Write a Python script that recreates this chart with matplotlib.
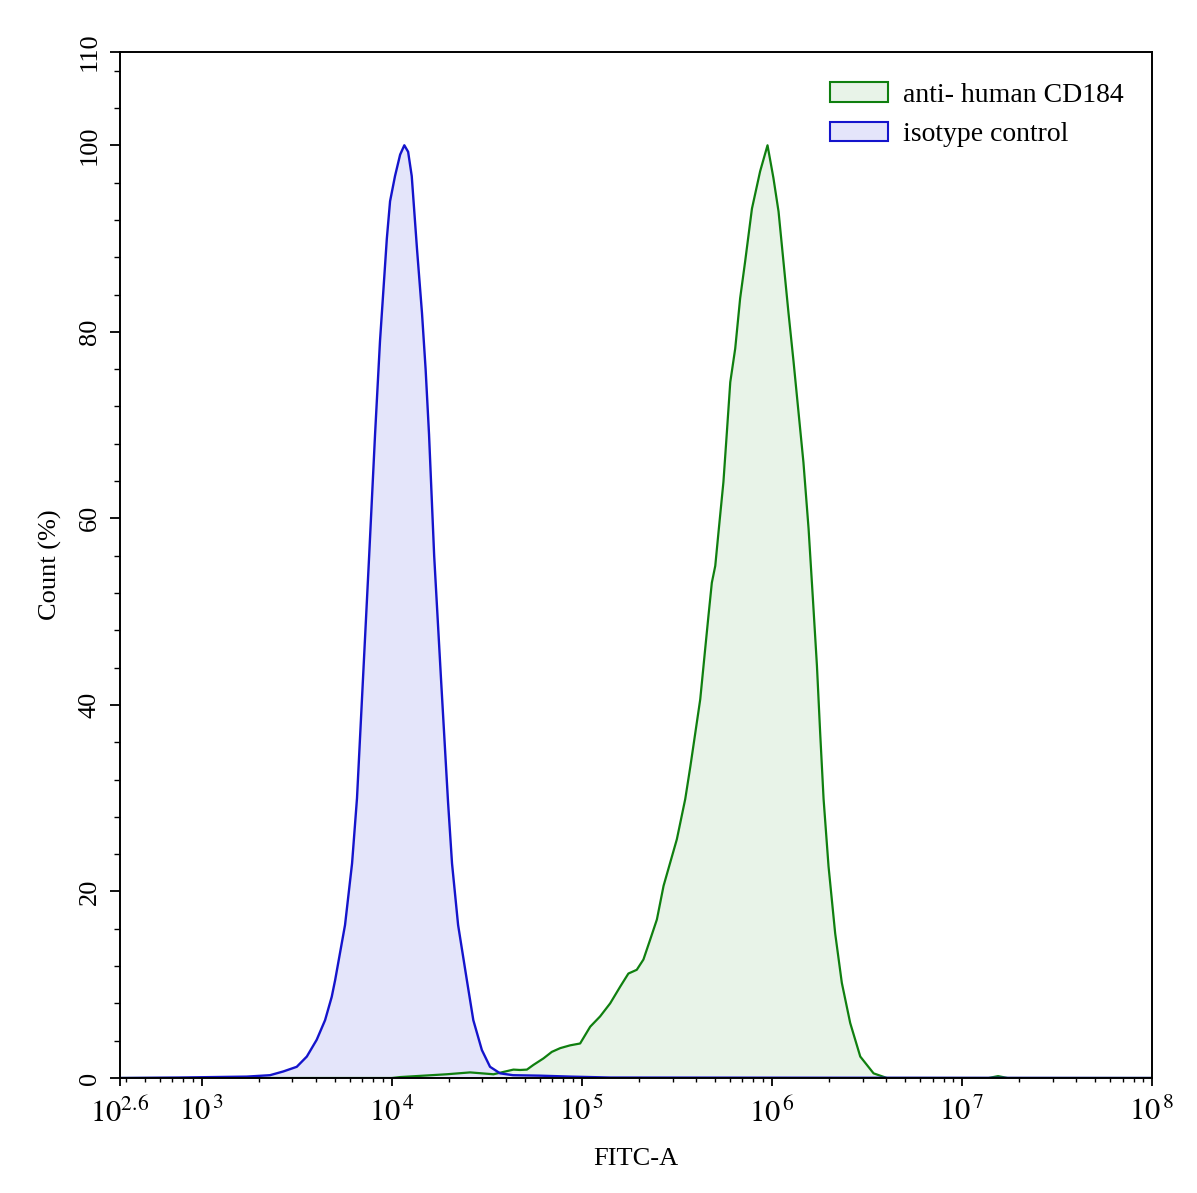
import matplotlib
matplotlib.use("Agg")
import matplotlib.pyplot as plt
import numpy as np
from matplotlib.patches import Patch
from matplotlib.ticker import FixedLocator, LogLocator, NullFormatter

plt.rcParams['font.family'] = ['Liberation Serif', 'DejaVu Serif']
plt.rcParams['mathtext.fontset'] = 'stix'

# isotype control histogram (log10 FITC-A, count %)
iso_log = [2.57, 2.886, 3.059, 3.237, 3.359, 3.429, 3.500, 3.553, 3.605, 3.649,
           3.684, 3.702, 3.754, 3.791, 3.817, 3.849, 3.881, 3.912, 3.938, 3.974,
           3.991, 4.017, 4.044, 4.066, 4.086, 4.105, 4.133, 4.159, 4.178, 4.196,
           4.223, 4.259, 4.296, 4.317, 4.349, 4.395, 4.429, 4.474, 4.517, 4.570,
           4.638, 4.78, 4.94, 5.15, 8.0]
iso_pct = [0.0, 0.05, 0.1, 0.15, 0.3, 0.7, 1.2, 2.3, 4.1, 6.2,
           8.7, 10.5, 16.4, 23.0, 30.0, 43.0, 56.0, 69.0, 79.0, 90.0,
           94.0, 96.7, 99.0, 100.0, 99.3, 96.7, 88.8, 82.0, 76.0, 69.0,
           56.0, 42.8, 29.6, 23.0, 16.4, 10.5, 6.2, 3.0, 1.2, 0.5,
           0.3, 0.25, 0.15, 0.05, 0.0]

# anti-human CD184 histogram
cd_log = [2.57, 4.0, 4.044, 4.289, 4.412, 4.535, 4.640, 4.675, 4.711, 4.745,
          4.798, 4.842, 4.886, 4.938, 4.991, 5.044, 5.096, 5.149, 5.202, 5.245,
          5.289, 5.324, 5.359, 5.395, 5.430, 5.465, 5.500, 5.544, 5.571, 5.597,
          5.623, 5.649, 5.666, 5.684, 5.702, 5.719, 5.745, 5.763, 5.781, 5.807,
          5.833, 5.859, 5.895, 5.938, 5.977, 6.008, 6.035, 6.061, 6.087, 6.114,
          6.140, 6.166, 6.193, 6.216, 6.237, 6.254, 6.272, 6.298, 6.333, 6.368,
          6.412, 6.465, 6.535, 6.605, 7.14, 7.19, 7.24, 8.0]
cd_pct = [0.0, 0.0, 0.1, 0.4, 0.6, 0.4, 0.9, 0.86, 0.9, 1.4,
          2.1, 2.8, 3.2, 3.5, 3.7, 5.5, 6.6, 8.0, 9.8, 11.2,
          11.6, 12.7, 14.8, 17.0, 20.6, 23.1, 25.6, 29.9, 33.4, 37.0,
          40.6, 46.0, 49.5, 53.1, 54.9, 58.5, 63.9, 69.2, 74.6, 78.2,
          83.6, 87.5, 93.2, 97.2, 100.0, 96.5, 92.9, 87.5, 82.1, 76.8,
          71.4, 66.0, 58.9, 51.3, 44.2, 37.0, 29.9, 22.7, 15.5, 10.2,
          5.9, 2.3, 0.5, 0.0, 0.0, 0.2, 0.0, 0.0]

x_ticks = [2.6, 3, 4, 5, 6, 7, 8]
x_tick_labels = [r'$10^{2.6}$', r'$10^{\,3}$', r'$10^{\,4}$', r'$10^{\,5}$',
                 r'$10^{\,6}$', r'$10^{\,7}$', r'$10^{\,8}$']
y_ticks = [0, 20, 40, 60, 80, 100, 110]

fig = plt.figure(figsize=(11.97, 11.93), dpi=100)
ax = fig.add_axes([120 / 1197, 115 / 1193, 1032 / 1197, 1026 / 1193])

iso_x = 10 ** np.array(iso_log)
cd_x = 10 ** np.array(cd_log)

ax.fill_between(cd_x, cd_pct, 0, color='#e8f3e8', lw=0)
ax.fill_between(iso_x, iso_pct, 0, color='#e4e5fa', lw=0)
ax.plot(cd_x, cd_pct, color='#0f7f0f', lw=1.6, solid_joinstyle='round')
ax.plot(iso_x, iso_pct, color='#1414cc', lw=1.7, solid_joinstyle='round')

ax.set_xscale('log')
ax.set_xlim(10 ** 2.57, 1e8)
ax.set_ylim(0, 110)

xt = [10 ** 2.57] + [10 ** v for v in x_ticks[1:]]
ax.xaxis.set_major_locator(FixedLocator(xt))
ax.set_xticklabels(x_tick_labels)
ax.xaxis.set_minor_locator(LogLocator(base=10, subs=np.arange(2, 10), numticks=20))
ax.xaxis.set_minor_formatter(NullFormatter())

ax.set_yticks(y_ticks)
ax.yaxis.set_minor_locator(FixedLocator([v for v in range(4, 110, 4) if v % 20]))

ax.tick_params(axis='x', which='major', length=6, width=1.3, labelsize=22, pad=8)
ax.tick_params(axis='x', which='minor', length=3, width=1)
ax.tick_params(axis='y', which='major', length=7, width=1.3, labelsize=19,
               labelrotation=90, pad=7)
ax.tick_params(axis='y', which='minor', length=4, width=1)
for lbl in ax.get_yticklabels():
    lbl.set_va('center')

for sp in ax.spines.values():
    sp.set_linewidth(1.4)

ax.set_xlabel('FITC-A', fontsize=19, labelpad=14)
ax.set_ylabel('Count (%)', fontsize=19, labelpad=12)

handles = [Patch(facecolor='#e8f3e8', edgecolor='#0f7f0f', lw=1.5, label='anti- human CD184'),
           Patch(facecolor='#e4e5fa', edgecolor='#1414cc', lw=1.5, label='isotype control')]
ax.legend(handles=handles, loc='upper right', bbox_to_anchor=(0.997, 0.995),
          frameon=False, fontsize=20, handlelength=2.1, handleheight=0.72,
          handletextpad=0.55, labelspacing=0.5)

fig.savefig('out.png', dpi=100)
